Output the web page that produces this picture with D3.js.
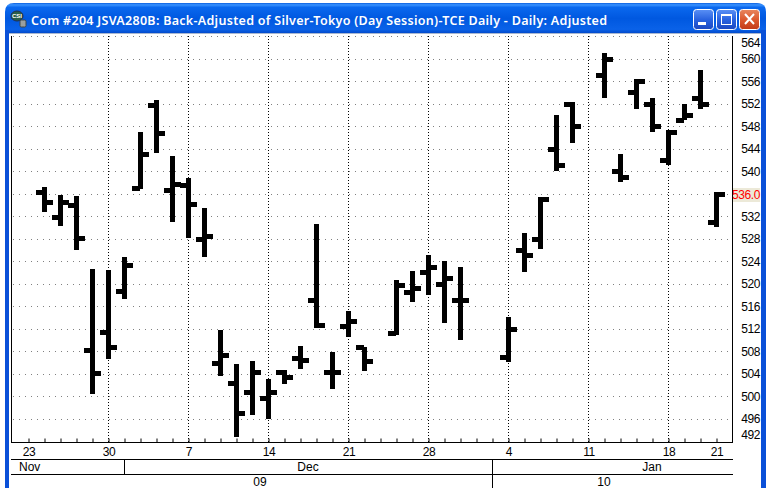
<!DOCTYPE html>
<html><head><meta charset="utf-8">
<script src="https://cdn.jsdelivr.net/npm/d3@7"></script>
<style>html,body{margin:0;padding:0;background:#fff}svg{display:block}</style>
</head><body><div id="chart"></div>
<script>
const titleText = "Com #204 JSVA280B: Back-Adjusted of Silver-Tokyo (Day Session)-TCE Daily - Daily: Adjusted";
const dates = ["Nov 23","Nov 24","Nov 25","Nov 26","Nov 27","Nov 30","Dec 1","Dec 2","Dec 3","Dec 4","Dec 7","Dec 8","Dec 9","Dec 10","Dec 11","Dec 14","Dec 15","Dec 16","Dec 17","Dec 18","Dec 21","Dec 22","Dec 23","Dec 24","Dec 25","Dec 28","Dec 29","Dec 30","Dec 31","Jan 1","Jan 4","Jan 5","Jan 6","Jan 7","Jan 8","Jan 11","Jan 12","Jan 13","Jan 14","Jan 15","Jan 18","Jan 19","Jan 20","Jan 21"];
const highs = [null,537.2,535.8,535.6,522.7,522.5,524.8,547.0,552.7,542.8,538.8,533.5,511.8,505.8,506.3,503.1,504.7,509.0,530.7,507.9,515.2,508.8,null,520.7,522.3,525.2,524.1,523.0,null,null,514.1,529.1,535.5,550.0,552.4,null,561.1,543.1,556.4,553.1,547.4,552.0,558.0,536.4];
const lows = [null,532.8,530.3,526.0,500.4,506.7,517.3,536.9,543.3,531.0,528.2,524.8,503.6,492.8,496.7,496.0,502.2,504.9,512.2,501.3,510.6,504.5,null,510.9,516.8,518.0,513.1,510.0,null,null,506.1,522.1,526.2,540.1,545.1,null,553.1,538.1,551.1,547.0,541.2,549.2,551.1,530.1];
const opens = [null,536.3,531.8,534.0,508.2,511.4,518.7,537.0,551.7,536.6,537.5,527.9,505.9,502.3,500.7,499.6,504.3,506.8,517.1,504.3,512.4,508.7,null,511.2,518.5,522.0,519.9,517.1,null,null,506.9,526.0,527.9,543.9,551.9,null,557.1,540.0,554.0,551.9,542.0,549.1,553.0,530.9];
const closes = [null,534.5,534.5,528.1,504.1,508.7,523.3,543.0,546.8,537.7,534.1,528.4,507.3,497.0,504.3,500.7,503.4,506.4,512.6,504.3,513.3,506.2,null,519.7,519.2,522.9,521.0,517.1,null,null,511.9,525.1,535.0,541.1,548.0,null,559.9,538.9,556.0,548.0,546.9,550.0,551.9,536.0];
const priceTicks = [564,560,556,552,548,544,540,532,528,524,520,516,512,508,504,500,496,492];
const gridPrices = [564,560,556,552,548,544,540,536,532,528,524,520,516,512,508,504,500,496];
const lastLabel = "536.0";
const lastPrice = 536;
const dayLabels = {"Nov 23":"23","Nov 30":"30","Dec 7":"7","Dec 14":"14","Dec 21":"21","Dec 28":"28","Jan 4":"4","Jan 11":"11","Jan 18":"18","Jan 21":"21"};
const weekLines = ["Nov 30","Dec 7","Dec 14","Dec 21","Dec 28","Jan 4","Jan 11","Jan 18"];
const monthLabels = ["Nov","Dec","Jan"];
const yearLabels = ["09","10"];

const W=771,H=488;
const svg=d3.select("#chart").append("svg").attr("width",W).attr("height",H).attr("viewBox",`0 0 ${W} ${H}`);
const font='"Liberation Sans",Arial,sans-serif';
const defs=svg.append("defs");
const tg=defs.append("linearGradient").attr("id","tb").attr("x1",0).attr("x2",0).attr("y1",0).attr("y2",1);
[[0,"#0a5fe0"],[.06,"#3a93ff"],[.14,"#0a68ee"],[.5,"#0058e0"],[.85,"#0a62e8"],[1,"#0044c4"]].forEach(s=>tg.append("stop").attr("offset",s[0]).attr("stop-color",s[1]));
const bb=defs.append("linearGradient").attr("id","bb").attr("x1",0).attr("x2",0).attr("y1",0).attr("y2",1);
[[0,"#5a90f5"],[.5,"#2a63e0"],[1,"#1c48c0"]].forEach(s=>bb.append("stop").attr("offset",s[0]).attr("stop-color",s[1]));
const cb=defs.append("linearGradient").attr("id","cb").attr("x1",0).attr("x2",0).attr("y1",0).attr("y2",1);
[[0,"#e8875f"],[.5,"#dc5a30"],[1,"#c23a18"]].forEach(s=>cb.append("stop").attr("offset",s[0]).attr("stop-color",s[1]));

// window chrome
svg.append("path").attr("d","M5 34V12Q5 3 14 3H757Q766 3 766 12V34Z").attr("fill","url(#tb)");
svg.append("rect").attr("x",5).attr("y",30).attr("width",4).attr("height",458).attr("fill","#0a50d8");
svg.append("rect").attr("x",761).attr("y",30).attr("width",5).attr("height",458).attr("fill","#0a50d8");
svg.append("rect").attr("x",9).attr("y",33).attr("width",752).attr("height",1).attr("fill","#aab8d0");
svg.append("text").attr("x",31).attr("y",25).attr("fill","#fff").attr("font-family",'"Noto Sans",sans-serif').attr("font-weight",600).attr("font-size",12.5).attr("textLength",576).attr("lengthAdjust","spacing").text(titleText);
// icon
const ic=svg.append("g");
ic.append("ellipse").attr("cx",17).attr("cy",16).attr("rx",6).attr("ry",5).attr("fill","#2a6048").attr("stroke","#203050");
ic.append("text").attr("x",17).attr("y",18).attr("text-anchor","middle").attr("font-size",6).attr("font-weight",700).attr("font-family",font).attr("fill","#fff").text("CSI");
ic.append("rect").attr("x",20).attr("y",20).attr("width",6).attr("height",7).attr("rx",1.5).attr("fill","#9aa0a0").attr("stroke","#404848");
// buttons
[[694,"url(#bb)"],[717,"url(#bb)"],[740,"url(#cb)"]].forEach(([bx,f])=>svg.append("rect").attr("x",bx-.5).attr("y",9.5).attr("width",20).attr("height",20).attr("rx",3).attr("fill",f).attr("stroke","#fff"));
svg.append("rect").attr("x",698).attr("y",22).attr("width",8).attr("height",3).attr("fill","#fff");
svg.append("rect").attr("x",721.5).attr("y",14.5).attr("width",10).attr("height",10).attr("fill","none").attr("stroke","#fff");
svg.append("rect").attr("x",721).attr("y",14).attr("width",11).attr("height",2).attr("fill","#fff");
svg.append("path").attr("d","M745 14L754 24M754 14L745 24").attr("stroke","#fff").attr("stroke-width",2).attr("fill","none");

// scales
const x=d3.scalePoint().domain(dates).range([28.5,716.5]);
const y=d3.scaleLinear().domain([560,496]).range([59,419]);
const row=v=>Math.floor(y(v))+.5;
const plotL=11, plotR=732, plotB=442, plotT=36;

// grid
const g=svg.append("g");
g.selectAll("line.h").data(gridPrices).join("line").attr("class","h")
 .attr("x1",plotL+2).attr("x2",plotR).attr("y1",row).attr("y2",row)
 .attr("stroke","#808080").attr("stroke-dasharray","1 5");
g.selectAll("line.v").data(weekLines).join("line").attr("class","v")
 .attr("x1",d=>x(d)).attr("x2",d=>x(d)).attr("y1",plotT).attr("y2",plotB)
 .attr("stroke","#000").attr("stroke-dasharray","1 2");

// bars
const idx=d3.range(dates.length).filter(i=>highs[i]!==null);
const bars=svg.append("g").attr("fill","#000");
bars.selectAll("rect.s").data(idx).join("rect").attr("class","s")
 .attr("x",i=>x(dates[i])-2.5).attr("width",5)
 .attr("y",i=>Math.round(y(highs[i]))).attr("height",i=>Math.round(y(lows[i]))-Math.round(y(highs[i])));
bars.selectAll("rect.o").data(idx).join("rect").attr("class","o")
 .attr("x",i=>x(dates[i])-8.5).attr("width",8)
 .attr("y",i=>Math.round(y(opens[i])-2.5)).attr("height",5);
bars.selectAll("rect.c").data(idx).join("rect").attr("class","c")
 .attr("x",i=>x(dates[i])+.5).attr("width",8)
 .attr("y",i=>Math.round(y(closes[i])-2.5)).attr("height",5);

// frame
const ink=(x1,y1,x2,y2)=>svg.append("line").attr("x1",x1).attr("y1",y1).attr("x2",x2).attr("y2",y2).attr("stroke","#000");
ink(plotL+.5,plotT,plotL+.5,plotB+.5);
ink(plotR+.5,plotT,plotR+.5,plotB+.5);
ink(plotL,459.5,plotR+1,459.5);
ink(plotL,474.5,plotR+1,474.5);
ink(124.5,459,124.5,474);
ink(492.5,459,492.5,488);

// x axis
const xAxis=d3.axisBottom(x).tickSizeInner(-4).tickSizeOuter(0).tickFormat(d=>dayLabels[d]||"");
const xg=svg.append("g").attr("transform",`translate(0,${plotB+.5})`).call(xAxis);
xg.select(".domain").attr("d",`M${plotL},0H${plotR+1}`).attr("stroke","#000");
xg.selectAll(".tick line").attr("stroke","#000");
xg.selectAll(".tick text").attr("y",13).attr("dy",0).attr("font-family",font).attr("font-size",12).attr("letter-spacing","-.4px").attr("fill","#000");

// y axis labels (the extreme labels are kept inside the plot's height)
const yAxis=d3.axisRight(y).tickValues(priceTicks).tickSize(0).tickFormat(d3.format("d"));
const yg=svg.append("g").attr("transform","translate(760,0)").call(yAxis);
yg.select(".domain").remove();
yg.selectAll(".tick").attr("transform",d=>`translate(0,${Math.max(43,Math.min(435,y(d)))+.5})`);
yg.selectAll(".tick text").attr("x",0).attr("text-anchor","end").attr("font-family",font).attr("font-size",12).attr("letter-spacing","-.4px").attr("fill","#000");

// last price flag
svg.append("rect").attr("x",733).attr("y",188).attr("width",27).attr("height",14).attr("fill","#ece9d8");
svg.append("text").attr("x",760).attr("y",y(lastPrice)+4.5).attr("text-anchor","end").attr("font-family",font).attr("font-size",12).attr("letter-spacing","-.4px").attr("fill","#ff0000").text(lastLabel);

// calendar rows
const lab=(s,px,py,a)=>svg.append("text").attr("x",px).attr("y",py).attr("text-anchor",a).attr("font-family",font).attr("font-size",12).attr("fill","#000").text(s);
lab(monthLabels[0],19,471,"start");
lab(monthLabels[1],308,471,"middle");
lab(monthLabels[2],652,471,"middle");
lab(yearLabels[0],260,486,"middle");
lab(yearLabels[1],604,486,"middle");
</script></body></html>
